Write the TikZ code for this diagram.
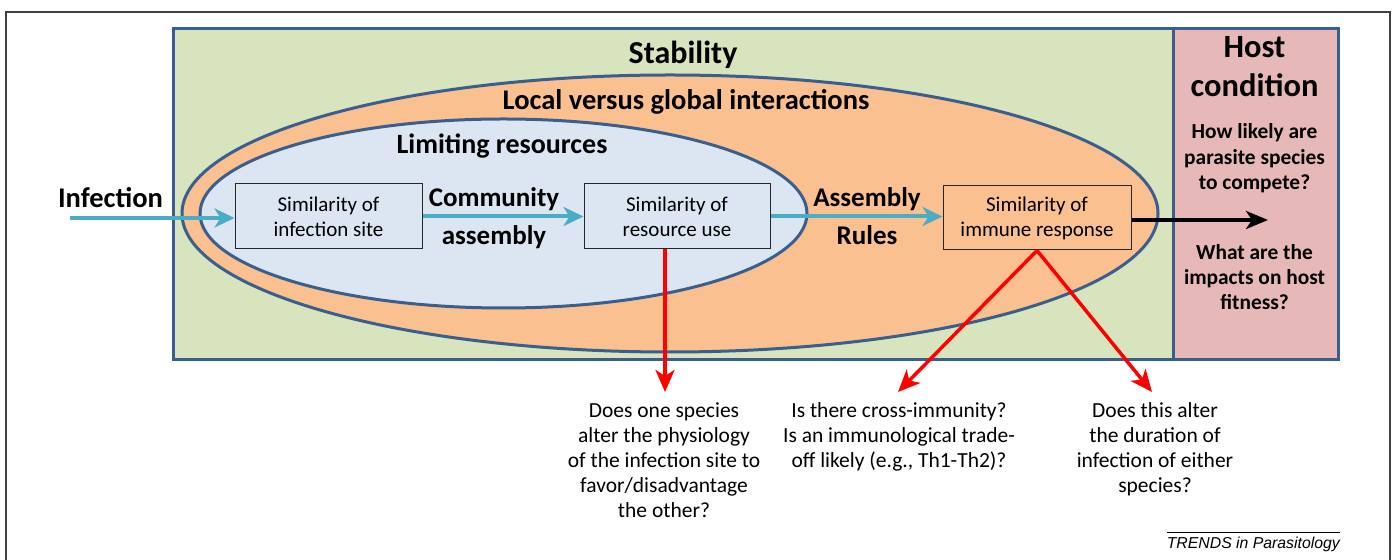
\documentclass[tikz,border=0pt]{standalone}
\usepackage{fontspec}
\setmainfont{Carlito}
\newfontfamily\trendsfont{Liberation Sans}
\usetikzlibrary{arrows.meta,positioning,calc,backgrounds,shapes.geometric}

\definecolor{stabgreen}{HTML}{D7E4BD}
\definecolor{hostpink}{HTML}{E6B9B8}
\definecolor{globalorange}{HTML}{FAC090}
\definecolor{resblue}{HTML}{DCE6F2}
\definecolor{outline}{HTML}{3A5F8E}
\definecolor{flowblue}{HTML}{4BACC6}
\definecolor{framegray}{HTML}{404040}

\begin{document}
\begin{tikzpicture}[
    x=1pt, y=1pt,
    panel/.style={rectangle, draw=outline, line width=3pt, inner sep=0pt},
    zone/.style={ellipse, draw=outline, line width=3pt, inner sep=0pt},
    simbox/.style={rectangle, draw=black!85, line width=1pt, text centered, align=center, minimum width=187pt, minimum height=65pt, font=\fontsize{21}{25}\selectfont},
    heading/.style={anchor=base, align=center, inner sep=0pt, font=\bfseries\fontsize{27}{38}\selectfont},
    question/.style={anchor=base, align=center, inner sep=0pt, font=\fontsize{21.5}{25}\selectfont},
    flow/.style={-{Stealth[length=20pt, width=19pt, inset=6pt]}, line width=4pt, draw=flowblue},
    impact/.style={-{Stealth[length=22pt, width=18pt, inset=6pt]}, line width=4pt, draw=black},
    query/.style={-{Stealth[length=22pt, width=19pt, inset=6pt]}, line width=3.5pt, draw=red}
]

\useasboundingbox (0,0) rectangle (1396,559);

% Figure frame, open at the bottom
\draw[draw=framegray, line width=1.5pt] (6,-2) -- (6,547) -- (1390,547) -- (1390,-2);

% Panels and nested zones
\begin{scope}[on background layer]
    \node[panel, fill=stabgreen, minimum width=1000pt, minimum height=331pt, anchor=south west] (stability) at (172,198) {};
    \node[panel, fill=hostpink, minimum width=165pt, minimum height=331pt, anchor=south west] (host) at (1172,198) {};
    \node[zone, fill=globalorange, minimum width=976pt, minimum height=277pt] (global_zone) at (670,345.5) {};
    \node[zone, fill=resblue, minimum width=607pt, minimum height=189pt] (resource_zone) at (503.5,345.5) {};
\end{scope}

% Titles (base = last line)
\node[heading, font=\bfseries\fontsize{32}{38}\selectfont] (stab_title) at (683,495) {Stability};
\node[heading, font=\bfseries\fontsize{28.5}{34}\selectfont] (global_title) at (686,449) {Local versus global interactions};
\node[heading, font=\bfseries\fontsize{28}{34}\selectfont] (resource_title) at (502,405) {Limiting resources};
\node[heading, font=\bfseries\fontsize{32.5}{39}\selectfont] (host_title) at (1254.5,462) {Host\\condition};

% Host condition questions
\node[heading, font=\bfseries\fontsize{21.4}{25.5}\selectfont] (host_compete) at (1254.5,369) {How likely are\\parasite species\\to compete?};
\node[heading, font=\bfseries\fontsize{21.4}{25}\selectfont] (host_fitness) at (1254.5,249) {What are the\\impacts on host\\fitness?};

% Similarity boxes
\node[simbox] (infection_site) at (328.5,342.5) {Similarity of\\infection site};
\node[simbox, minimum width=186pt] (resource_use) at (677,342.5) {Similarity of\\resource use};
\node[simbox, fill=globalorange, minimum width=188pt, minimum height=64pt] (immune_resp) at (1037,341) {Similarity of\\immune response};

% Flow labels
\node[heading, font=\bfseries\fontsize{28.5}{34}\selectfont] (infection_lbl) at (110.5,351) {Infection};
\node[heading] (community_lbl) at (494,314) {Community\\assembly};
\node[heading] (rules_lbl) at (867,314) {Assembly\\Rules};

% Blue flow arrows
\coordinate (infection_start) at (70,341);
\draw[flow] (infection_start) -- (infection_site.west |- infection_start);
\draw[flow] (infection_site) -- (resource_use);
\draw[flow] (resource_use.east) -- (immune_resp.west |- resource_use.east);

% Host impact arrow
\coordinate (host_point) at (1268,339);
\draw[impact] (immune_resp.east |- host_point) -- (host_point);

% Open questions below
\node[question] (q_physiology) at (664,41) {Does one species\\alter the physiology\\of the infection site to\\favor/disadvantage\\the other?};
\node[question] (q_cross) at (899,91) {Is there cross-immunity?\\Is an immunological trade-\\off likely (e.g., Th1-Th2)?};
\node[question] (q_duration) at (1155,66) {Does this alter\\the duration of\\infection of either\\species?};

% Red question arrows
\coordinate (tip_physiology) at (665,167);
\coordinate (tip_cross) at (898,167);
\coordinate (tip_duration) at (1152,167);
\draw[query] (resource_use.south -| tip_physiology) -- (tip_physiology);
\draw[query] (immune_resp.south) -- (tip_cross);
\draw[query] (immune_resp.south) -- (tip_duration);

% Journal tag
\node[anchor=base east, inner sep=0pt, font=\trendsfont\itshape\fontsize{15.8}{18}\selectfont] (journal) at (1340,11) {TRENDS in Parasitology};
\draw[line width=1pt] ([yshift=4pt]journal.north west) -- ([yshift=4pt]journal.north east);

\end{tikzpicture}
\end{document}
